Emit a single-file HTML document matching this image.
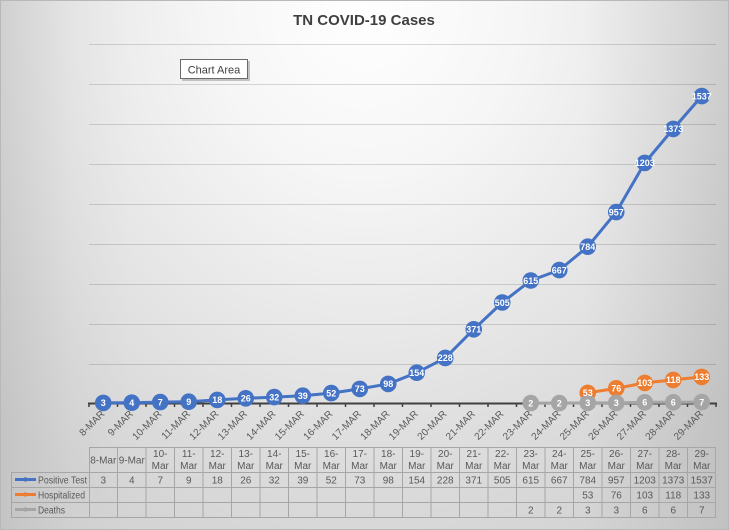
<!DOCTYPE html>
<html>
<head>
<meta charset="utf-8">
<style>
  html,body{margin:0;padding:0;}
  body{width:729px;height:530px;overflow:hidden;}
  #bg{position:absolute;left:0;top:0;width:729px;height:530px;
    background-image:
      linear-gradient(to right,#ececec 0%,#fbfbfb 10%,#ffffff 18%,#ffffff 80%,#f2f2f2 92%,#e8e8e8 100%),
      radial-gradient(ellipse 70% 110% at 50% 0%,#ffffff 0%,#f6f6f6 30%,#dadada 85%,#d4d4d4 100%);
    background-blend-mode:multiply;}
  svg{position:absolute;left:0;top:0;}
  text{font-family:"Liberation Sans",Arial,sans-serif;}
</style>
</head>
<body>
<div id="bg"></div>
<svg width="729" height="530" viewBox="0 0 729 530" xmlns="http://www.w3.org/2000/svg">
  <rect x="0.5" y="0.5" width="728" height="529" fill="none" stroke="#b8b8b8" stroke-width="1"/>
  <text x="364" y="25" text-anchor="middle" font-size="15" font-weight="bold" fill="#404040">TN COVID-19 Cases</text>

  <!-- gridlines -->
  <g stroke="rgba(0,0,0,0.14)" stroke-width="1">
    <line x1="89" y1="44.5" x2="716" y2="44.5"/>
    <line x1="89" y1="84.5" x2="716" y2="84.5"/>
    <line x1="89" y1="124.5" x2="716" y2="124.5"/>
    <line x1="89" y1="164.5" x2="716" y2="164.5"/>
    <line x1="89" y1="204.5" x2="716" y2="204.5"/>
    <line x1="89" y1="244.5" x2="716" y2="244.5"/>
    <line x1="89" y1="284.5" x2="716" y2="284.5"/>
    <line x1="89" y1="324.5" x2="716" y2="324.5"/>
    <line x1="89" y1="364.5" x2="716" y2="364.5"/>
  </g>

  <!-- axis -->
  <line x1="88" y1="403.5" x2="717" y2="403.5" stroke="#404040" stroke-width="2"/>
  <g stroke="#404040" stroke-width="1.5">
    <line x1="89" y1="403" x2="89" y2="407"/><line x1="117.5" y1="403" x2="117.5" y2="407"/>
    <line x1="146" y1="403" x2="146" y2="407"/><line x1="174.5" y1="403" x2="174.5" y2="407"/>
    <line x1="203" y1="403" x2="203" y2="407"/><line x1="231.5" y1="403" x2="231.5" y2="407"/>
    <line x1="260" y1="403" x2="260" y2="407"/><line x1="288.5" y1="403" x2="288.5" y2="407"/>
    <line x1="317" y1="403" x2="317" y2="407"/><line x1="345.5" y1="403" x2="345.5" y2="407"/>
    <line x1="374" y1="403" x2="374" y2="407"/><line x1="402.5" y1="403" x2="402.5" y2="407"/>
    <line x1="431" y1="403" x2="431" y2="407"/><line x1="459.5" y1="403" x2="459.5" y2="407"/>
    <line x1="488" y1="403" x2="488" y2="407"/><line x1="516.5" y1="403" x2="516.5" y2="407"/>
    <line x1="545" y1="403" x2="545" y2="407"/><line x1="573.5" y1="403" x2="573.5" y2="407"/>
    <line x1="602" y1="403" x2="602" y2="407"/><line x1="630.5" y1="403" x2="630.5" y2="407"/>
    <line x1="659" y1="403" x2="659" y2="407"/><line x1="687.5" y1="403" x2="687.5" y2="407"/>
    <line x1="716" y1="403" x2="716" y2="407"/>
  </g>

  <!-- x axis labels -->
  <g font-size="10" fill="#595959" text-anchor="end">
    <text transform="translate(105.25,414.5) rotate(-45)">8-MAR</text>
    <text transform="translate(133.75,414.5) rotate(-45)">9-MAR</text>
    <text transform="translate(162.25,414.5) rotate(-45)">10-MAR</text>
    <text transform="translate(190.75,414.5) rotate(-45)">11-MAR</text>
    <text transform="translate(219.25,414.5) rotate(-45)">12-MAR</text>
    <text transform="translate(247.75,414.5) rotate(-45)">13-MAR</text>
    <text transform="translate(276.25,414.5) rotate(-45)">14-MAR</text>
    <text transform="translate(304.75,414.5) rotate(-45)">15-MAR</text>
    <text transform="translate(333.25,414.5) rotate(-45)">16-MAR</text>
    <text transform="translate(361.75,414.5) rotate(-45)">17-MAR</text>
    <text transform="translate(390.25,414.5) rotate(-45)">18-MAR</text>
    <text transform="translate(418.75,414.5) rotate(-45)">19-MAR</text>
    <text transform="translate(447.25,414.5) rotate(-45)">20-MAR</text>
    <text transform="translate(475.75,414.5) rotate(-45)">21-MAR</text>
    <text transform="translate(504.25,414.5) rotate(-45)">22-MAR</text>
    <text transform="translate(532.75,414.5) rotate(-45)">23-MAR</text>
    <text transform="translate(561.25,414.5) rotate(-45)">24-MAR</text>
    <text transform="translate(589.75,414.5) rotate(-45)">25-MAR</text>
    <text transform="translate(618.25,414.5) rotate(-45)">26-MAR</text>
    <text transform="translate(646.75,414.5) rotate(-45)">27-MAR</text>
    <text transform="translate(675.25,414.5) rotate(-45)">28-MAR</text>
    <text transform="translate(703.75,414.5) rotate(-45)">29-MAR</text>
  </g>

  <!-- Positive Test series -->
  <polyline fill="none" stroke="#4472c4" stroke-width="3" stroke-linejoin="round"
    points="103.25,402.9 131.75,402.7 160.25,402.1 188.75,401.7 217.25,399.9 245.75,398.3 274.25,397.1 302.75,395.7 331.25,393.1 359.75,388.9 388.25,383.9 416.75,372.7 445.25,357.9 473.75,329.3 502.25,302.5 530.75,280.5 559.25,270.1 587.75,246.7 616.25,212.1 644.75,162.9 673.25,128.9 701.75,96.1"/>
  <g fill="#4472c4">
    <circle cx="103.25" cy="402.9" r="8.3"/><circle cx="131.75" cy="402.7" r="8.3"/>
    <circle cx="160.25" cy="402.1" r="8.3"/><circle cx="188.75" cy="401.7" r="8.3"/>
    <circle cx="217.25" cy="399.9" r="8.3"/><circle cx="245.75" cy="398.3" r="8.3"/>
    <circle cx="274.25" cy="397.1" r="8.3"/><circle cx="302.75" cy="395.7" r="8.3"/>
    <circle cx="331.25" cy="393.1" r="8.3"/><circle cx="359.75" cy="388.9" r="8.3"/>
    <circle cx="388.25" cy="383.9" r="8.3"/><circle cx="416.75" cy="372.7" r="8.3"/>
    <circle cx="445.25" cy="357.9" r="8.3"/><circle cx="473.75" cy="329.3" r="8.3"/>
    <circle cx="502.25" cy="302.5" r="8.3"/><circle cx="530.75" cy="280.5" r="8.3"/>
    <circle cx="559.25" cy="270.1" r="8.3"/><circle cx="587.75" cy="246.7" r="8.3"/>
    <circle cx="616.25" cy="212.1" r="8.3"/><circle cx="644.75" cy="162.9" r="8.3"/>
    <circle cx="673.25" cy="128.9" r="8.3"/><circle cx="701.75" cy="96.1" r="8.3"/>
  </g>

  <!-- Hospitalized series -->
  <polyline fill="none" stroke="#ed7d31" stroke-width="3" stroke-linejoin="round"
    points="587.75,392.9 616.25,388.3 644.75,382.9 673.25,379.9 701.75,376.9"/>
  <g fill="#ed7d31">
    <circle cx="587.75" cy="392.9" r="8.3"/><circle cx="616.25" cy="388.3" r="8.3"/>
    <circle cx="644.75" cy="382.9" r="8.3"/><circle cx="673.25" cy="379.9" r="8.3"/>
    <circle cx="701.75" cy="376.9" r="8.3"/>
  </g>

  <!-- Deaths series -->
  <polyline fill="none" stroke="#a5a5a5" stroke-width="3" stroke-linejoin="round"
    points="530.75,403.1 559.25,403.1 587.75,402.9 616.25,402.9 644.75,402.3 673.25,402.3 701.75,402.1"/>
  <g fill="#a5a5a5">
    <circle cx="530.75" cy="403.1" r="8.3"/><circle cx="559.25" cy="403.1" r="8.3"/>
    <circle cx="587.75" cy="402.9" r="8.3"/><circle cx="616.25" cy="402.9" r="8.3"/>
    <circle cx="644.75" cy="402.3" r="8.3"/><circle cx="673.25" cy="402.3" r="8.3"/>
    <circle cx="701.75" cy="402.1" r="8.3"/>
  </g>

  <!-- data labels -->
  <g font-size="9" font-weight="bold" fill="#ffffff" text-anchor="middle">
    <text x="103.25" y="406.2">3</text><text x="131.75" y="406">4</text>
    <text x="160.25" y="405.4">7</text><text x="188.75" y="405">9</text>
    <text x="217.25" y="403.2">18</text><text x="245.75" y="401.6">26</text>
    <text x="274.25" y="400.4">32</text><text x="302.75" y="399">39</text>
    <text x="331.25" y="396.4">52</text><text x="359.75" y="392.2">73</text>
    <text x="388.25" y="387.2">98</text><text x="416.75" y="376">154</text>
    <text x="445.25" y="361.2">228</text><text x="473.75" y="332.6">371</text>
    <text x="502.25" y="305.8">505</text><text x="530.75" y="283.8">615</text>
    <text x="559.25" y="273.4">667</text><text x="587.75" y="250">784</text>
    <text x="616.25" y="215.4">957</text><text x="644.75" y="166.2">1203</text>
    <text x="673.25" y="132.2">1373</text><text x="701.75" y="99.4">1537</text>

    <text x="587.75" y="396.2">53</text><text x="616.25" y="391.6">76</text>
    <text x="644.75" y="386.2">103</text><text x="673.25" y="383.2">118</text>
    <text x="701.75" y="380.2">133</text>

    <text x="530.75" y="406.4">2</text><text x="559.25" y="406.4">2</text>
    <text x="587.75" y="406.2">3</text><text x="616.25" y="406.2">3</text>
    <text x="644.75" y="405.6">6</text><text x="673.25" y="405.6">6</text>
    <text x="701.75" y="405.4">7</text>
  </g>

  <!-- Chart Area tooltip -->
  <rect x="182" y="61" width="68" height="20" fill="#a0a0a0" opacity="0.6"/>
  <rect x="180.5" y="59.5" width="67" height="19" fill="#ffffff" stroke="#6a6a6a" stroke-width="1"/>
  <text x="214" y="73.5" text-anchor="middle" font-size="11" fill="#404040">Chart Area</text>

  <!-- data table -->
  <g stroke="#a6a6a6" stroke-width="1" fill="none">
    <line x1="89" y1="447.5" x2="716" y2="447.5"/>
    <line x1="11" y1="472.5" x2="716" y2="472.5"/>
    <line x1="11" y1="487.5" x2="716" y2="487.5"/>
    <line x1="11" y1="502.5" x2="716" y2="502.5"/>
    <line x1="11" y1="517.5" x2="716" y2="517.5"/>
    <line x1="11.5" y1="472" x2="11.5" y2="518"/>
    <line x1="89.5" y1="447" x2="89.5" y2="518"/><line x1="117.5" y1="447" x2="117.5" y2="518"/>
    <line x1="146" y1="447" x2="146" y2="518"/><line x1="174.5" y1="447" x2="174.5" y2="518"/>
    <line x1="203" y1="447" x2="203" y2="518"/><line x1="231.5" y1="447" x2="231.5" y2="518"/>
    <line x1="260" y1="447" x2="260" y2="518"/><line x1="288.5" y1="447" x2="288.5" y2="518"/>
    <line x1="317" y1="447" x2="317" y2="518"/><line x1="345.5" y1="447" x2="345.5" y2="518"/>
    <line x1="374" y1="447" x2="374" y2="518"/><line x1="402.5" y1="447" x2="402.5" y2="518"/>
    <line x1="431" y1="447" x2="431" y2="518"/><line x1="459.5" y1="447" x2="459.5" y2="518"/>
    <line x1="488" y1="447" x2="488" y2="518"/><line x1="516.5" y1="447" x2="516.5" y2="518"/>
    <line x1="545" y1="447" x2="545" y2="518"/><line x1="573.5" y1="447" x2="573.5" y2="518"/>
    <line x1="602" y1="447" x2="602" y2="518"/><line x1="630.5" y1="447" x2="630.5" y2="518"/>
    <line x1="659" y1="447" x2="659" y2="518"/><line x1="687.5" y1="447" x2="687.5" y2="518"/>
    <line x1="715.5" y1="447" x2="715.5" y2="518"/>
  </g>

  <g font-size="10" fill="#595959" text-anchor="middle">
    <!-- header -->
    <text x="103.25" y="463.5">8-Mar</text>
    <text x="131.75" y="463.5">9-Mar</text>
    <text x="160.25" y="457">10-</text><text x="160.25" y="469">Mar</text>
    <text x="188.75" y="457">11-</text><text x="188.75" y="469">Mar</text>
    <text x="217.25" y="457">12-</text><text x="217.25" y="469">Mar</text>
    <text x="245.75" y="457">13-</text><text x="245.75" y="469">Mar</text>
    <text x="274.25" y="457">14-</text><text x="274.25" y="469">Mar</text>
    <text x="302.75" y="457">15-</text><text x="302.75" y="469">Mar</text>
    <text x="331.25" y="457">16-</text><text x="331.25" y="469">Mar</text>
    <text x="359.75" y="457">17-</text><text x="359.75" y="469">Mar</text>
    <text x="388.25" y="457">18-</text><text x="388.25" y="469">Mar</text>
    <text x="416.75" y="457">19-</text><text x="416.75" y="469">Mar</text>
    <text x="445.25" y="457">20-</text><text x="445.25" y="469">Mar</text>
    <text x="473.75" y="457">21-</text><text x="473.75" y="469">Mar</text>
    <text x="502.25" y="457">22-</text><text x="502.25" y="469">Mar</text>
    <text x="530.75" y="457">23-</text><text x="530.75" y="469">Mar</text>
    <text x="559.25" y="457">24-</text><text x="559.25" y="469">Mar</text>
    <text x="587.75" y="457">25-</text><text x="587.75" y="469">Mar</text>
    <text x="616.25" y="457">26-</text><text x="616.25" y="469">Mar</text>
    <text x="644.75" y="457">27-</text><text x="644.75" y="469">Mar</text>
    <text x="673.25" y="457">28-</text><text x="673.25" y="469">Mar</text>
    <text x="701.75" y="457">29-</text><text x="701.75" y="469">Mar</text>

    <!-- positive row -->
    <text x="103.25" y="483.5">3</text><text x="131.75" y="483.5">4</text>
    <text x="160.25" y="483.5">7</text><text x="188.75" y="483.5">9</text>
    <text x="217.25" y="483.5">18</text><text x="245.75" y="483.5">26</text>
    <text x="274.25" y="483.5">32</text><text x="302.75" y="483.5">39</text>
    <text x="331.25" y="483.5">52</text><text x="359.75" y="483.5">73</text>
    <text x="388.25" y="483.5">98</text><text x="416.75" y="483.5">154</text>
    <text x="445.25" y="483.5">228</text><text x="473.75" y="483.5">371</text>
    <text x="502.25" y="483.5">505</text><text x="530.75" y="483.5">615</text>
    <text x="559.25" y="483.5">667</text><text x="587.75" y="483.5">784</text>
    <text x="616.25" y="483.5">957</text><text x="644.75" y="483.5">1203</text>
    <text x="673.25" y="483.5">1373</text><text x="701.75" y="483.5">1537</text>

    <!-- hospitalized row -->
    <text x="587.75" y="498.5">53</text><text x="616.25" y="498.5">76</text>
    <text x="644.75" y="498.5">103</text><text x="673.25" y="498.5">118</text>
    <text x="701.75" y="498.5">133</text>

    <!-- deaths row -->
    <text x="530.75" y="513.5">2</text><text x="559.25" y="513.5">2</text>
    <text x="587.75" y="513.5">3</text><text x="616.25" y="513.5">3</text>
    <text x="644.75" y="513.5">6</text><text x="673.25" y="513.5">6</text>
    <text x="701.75" y="513.5">7</text>
  </g>

  <!-- legend keys -->
  <line x1="15" y1="479.5" x2="36" y2="479.5" stroke="#4472c4" stroke-width="3"/>
  <circle cx="25.5" cy="479.5" r="2.2" fill="#4472c4"/>
  <line x1="15" y1="494.5" x2="36" y2="494.5" stroke="#ed7d31" stroke-width="3"/>
  <circle cx="25.5" cy="494.5" r="2.2" fill="#ed7d31"/>
  <line x1="15" y1="509.5" x2="36" y2="509.5" stroke="#a5a5a5" stroke-width="3"/>
  <circle cx="25.5" cy="509.5" r="2.2" fill="#a5a5a5"/>
  <g font-size="10" fill="#595959">
    <text x="38" y="483.5" textLength="49" lengthAdjust="spacingAndGlyphs">Positive Test</text>
    <text x="38" y="498.5" textLength="47" lengthAdjust="spacingAndGlyphs">Hospitalized</text>
    <text x="38" y="513.5" textLength="27" lengthAdjust="spacingAndGlyphs">Deaths</text>
  </g>
</svg>
</body>
</html>
